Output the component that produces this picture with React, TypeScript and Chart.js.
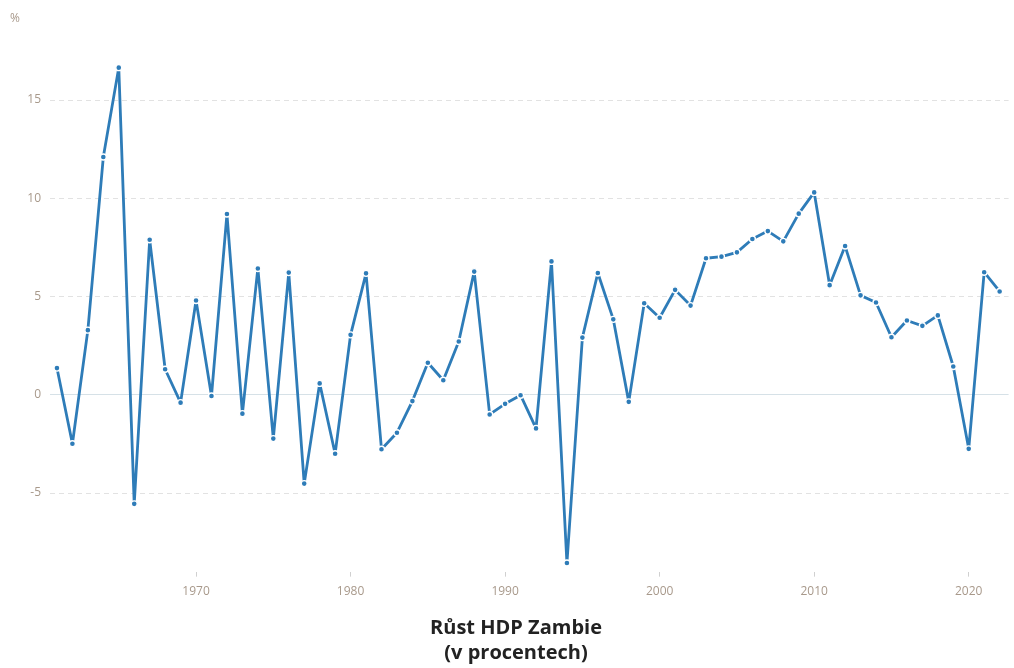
import React, { useEffect, useRef } from "react";
import { Chart, registerables } from "chart.js";

Chart.register(...registerables);

const years: number[] = [
  1961, 1962, 1963, 1964, 1965, 1966, 1967, 1968, 1969, 1970,
  1971, 1972, 1973, 1974, 1975, 1976, 1977, 1978, 1979, 1980,
  1981, 1982, 1983, 1984, 1985, 1986, 1987, 1988, 1989, 1990,
  1991, 1992, 1993, 1994, 1995, 1996, 1997, 1998, 1999, 2000,
  2001, 2002, 2003, 2004, 2005, 2006, 2007, 2008, 2009, 2010,
  2011, 2012, 2013, 2014, 2015, 2016, 2017, 2018, 2019, 2020,
  2021, 2022,
];

const growth: number[] = [
  1.36, -2.49, 3.29, 12.1, 16.65, -5.55, 7.89, 1.3, -0.4, 4.8,
  -0.06, 9.2, -0.96, 6.43, -2.23, 6.22, -4.52, 0.58, -3.0, 3.05,
  6.18, -2.77, -1.93, -0.32, 1.63, 0.74, 2.71, 6.27, -1.0, -0.46,
  -0.02, -1.71, 6.79, -8.56, 2.91, 6.2, 3.84, -0.36, 4.66, 3.92,
  5.34, 4.54, 6.95, 7.03, 7.25, 7.93, 8.33, 7.81, 9.22, 10.3,
  5.58, 7.57, 5.06, 4.7, 2.93, 3.78, 3.51, 4.04, 1.44, -2.75,
  6.24, 5.26,
];

const yTickValues: number[] = [-5, 0, 5, 10, 15];
const xTickValues: number[] = [1970, 1980, 1990, 2000, 2010, 2020];
const titleLines: string[] = ["Růst HDP Zambie", "(v procentech)"];
const unitLabel = "%";

const LINE_COLOR = "#2e7cb8";
const TICK_COLOR = "#a8998b";

export default function App() {
  const canvasRef = useRef<HTMLCanvasElement | null>(null);

  useEffect(() => {
    const canvas = canvasRef.current;
    if (!canvas) return;

    const unitPlugin = {
      id: "unitLabel",
      afterDraw(chart: any) {
        const ctx = chart.ctx;
        ctx.save();
        ctx.font = "12px 'Open Sans'";
        ctx.fillStyle = TICK_COLOR;
        ctx.textAlign = "center";
        ctx.textBaseline = "middle";
        ctx.fillText(unitLabel, 15, 19);
        ctx.restore();
      },
    };

    const chart = new Chart(canvas, {
      type: "line",
      data: {
        datasets: [
          {
            data: years.map((y, i) => ({ x: y, y: growth[i] })),
            borderColor: LINE_COLOR,
            backgroundColor: LINE_COLOR,
            borderWidth: 2.8,
            borderJoinStyle: "round",
            borderCapStyle: "round",
            tension: 0,
            pointRadius: 3,
            pointBorderWidth: 1.4,
            pointBorderColor: "#ffffff",
            pointBackgroundColor: LINE_COLOR,
            clip: false as any,
          },
        ],
      },
      options: {
        animation: false,
        responsive: true,
        maintainAspectRatio: false,
        layout: { padding: { left: 18, right: 0, top: 41.1, bottom: 0 } },
        plugins: {
          legend: { display: false },
          tooltip: { enabled: false },
          title: {
            display: true,
            position: "bottom",
            text: titleLines,
            color: "#222222",
            font: { family: "'Open Sans'", size: 20, weight: "bold", lineHeight: "25px" as any },
            padding: { top: 0, bottom: 2 },
          },
        },
        scales: {
          x: {
            type: "linear",
            min: 1960.55,
            max: 2022.58,
            afterBuildTicks: (scale: any) => {
              scale.ticks = xTickValues.map((v) => ({ value: v }));
            },
            afterFit: (scale: any) => {
              scale.height = 44.35;
            },
            grid: {
              display: true,
              drawOnChartArea: false,
              drawTicks: true,
              tickLength: 5,
              tickColor: "#d0d0d0",
              tickWidth: 1,
            },
            border: { display: false },
            ticks: {
              color: TICK_COLOR,
              font: { family: "'Open Sans'", size: 12 },
              padding: 8,
              maxRotation: 0,
              autoSkip: false,
              callback: (v: any) => String(v),
            },
          },
          y: {
            type: "linear",
            min: -9,
            max: 18,
            afterBuildTicks: (scale: any) => {
              scale.ticks = yTickValues.map((v) => ({ value: v }));
            },
            afterFit: (scale: any) => {
              scale.width = 32;
            },
            grid: {
              drawTicks: false,
              color: (ctx: any) => (ctx.tick && ctx.tick.value === 0 ? "#d6e1e7" : "#e2e2e2"),
              lineWidth: 1,
            },
            border: {
              display: false,
              dash: (ctx: any) => (ctx.tick && ctx.tick.value === 0 ? [] : [5, 4]),
            } as any,
            ticks: {
              color: TICK_COLOR,
              font: { family: "'Open Sans'", size: 12 },
              padding: 9,
              callback: (v: any) => String(v),
            },
          },
        },
      },
      plugins: [unitPlugin],
    } as any);

    return () => {
      chart.destroy();
    };
  }, []);

  return (
    <div style={{ position: "fixed", left: 0, top: 0, width: 1014, height: 668, background: "#ffffff" }}>
      <canvas ref={canvasRef} />
    </div>
  );
}
